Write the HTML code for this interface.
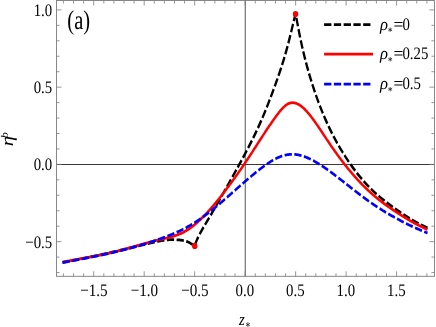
<!DOCTYPE html>
<html><head><meta charset="utf-8"><title>plot</title>
<style>html,body{margin:0;padding:0;background:#fff;overflow:hidden}svg{will-change:transform;-webkit-font-smoothing:antialiased}body{width:436px;height:327px;position:relative;font-family:"Liberation Serif",serif}</style>
</head><body>
<svg width="436" height="327" viewBox="0 0 436 327" style="position:absolute;left:0;top:0" font-family="Liberation Serif, serif" fill="#000" text-rendering="geometricPrecision">
<line x1="245.24" y1="0.5" x2="245.24" y2="276.3" stroke="#000" stroke-width="1" opacity="0.68"/>
<line x1="56.5" y1="164.5" x2="434.45" y2="164.5" stroke="#000" stroke-width="1" opacity="0.78"/>
<g fill="none" stroke-width="2.75" stroke-linejoin="round" transform="scale(0.847,1)">
<path d="M73.91,262.30 L74.50,262.21 L75.09,262.12 L75.68,262.04 L76.27,261.95 L76.86,261.86 L77.45,261.77 L78.04,261.68 L78.63,261.59 L79.22,261.50 L79.81,261.41 L80.40,261.32 L80.99,261.23 L81.58,261.13 L82.17,261.04 L82.76,260.95 L83.35,260.86 L83.94,260.76 L84.53,260.67 L85.12,260.58 L85.71,260.48 L86.30,260.39 L86.89,260.29 L87.49,260.20 L88.08,260.10 L88.67,260.01 L89.26,259.91 L89.85,259.82 L90.44,259.72 L91.03,259.62 L91.62,259.53 L92.21,259.43 L92.80,259.33 L93.39,259.23 L93.98,259.14 L94.57,259.04 L95.16,258.94 L95.75,258.84 L96.34,258.74 L96.93,258.64 L97.52,258.54 L98.11,258.44 L98.70,258.34 L99.29,258.24 L99.88,258.14 L100.47,258.04 L101.06,257.93 L101.65,257.83 L102.24,257.73 L102.83,257.63 L103.42,257.52 L104.01,257.42 L104.60,257.32 L105.19,257.21 L105.79,257.11 L106.38,257.01 L106.97,256.90 L107.56,256.80 L108.15,256.69 L108.74,256.59 L109.33,256.48 L109.92,256.37 L110.51,256.27 L111.10,256.16 L111.69,256.05 L112.28,255.95 L112.87,255.84 L113.46,255.73 L114.05,255.63 L114.64,255.52 L115.23,255.41 L115.82,255.30 L116.41,255.19 L117.00,255.08 L117.59,254.97 L118.18,254.86 L118.77,254.75 L119.36,254.64 L119.95,254.53 L120.54,254.42 L121.13,254.31 L121.72,254.20 L122.31,254.09 L122.90,253.98 L123.49,253.87 L124.09,253.75 L124.68,253.64 L125.27,253.53 L125.86,253.42 L126.45,253.30 L127.04,253.19 L127.63,253.08 L128.22,252.96 L128.81,252.85 L129.40,252.74 L129.99,252.62 L130.58,252.51 L131.17,252.39 L131.76,252.28 L132.35,252.16 L132.94,252.05 L133.53,251.93 L134.12,251.82 L134.71,251.70 L135.30,251.58 L135.89,251.47 L136.48,251.35 L137.07,251.23 L137.66,251.12 L138.25,251.00 L138.84,250.88 L139.43,250.76 L140.02,250.65 L140.61,250.53 L141.20,250.41 L141.79,250.29 L142.38,250.17 L142.98,250.06 L143.57,249.94 L144.16,249.82 L144.75,249.70 L145.34,249.58 L145.93,249.46 L146.52,249.34 L147.11,249.22 L147.70,249.11 L148.29,248.99 L148.88,248.87 L149.47,248.75 L150.06,248.63 L150.65,248.51 L151.24,248.39 L151.83,248.27 L152.42,248.15 L153.01,248.03 L153.60,247.91 L154.19,247.79 L154.78,247.67 L155.37,247.55 L155.96,247.43 L156.55,247.31 L157.14,247.19 L157.73,247.07 L158.32,246.95 L158.91,246.83 L159.50,246.71 L160.09,246.59 L160.68,246.47 L161.28,246.35 L161.87,246.23 L162.46,246.11 L163.05,245.99 L163.64,245.87 L164.23,245.74 L164.82,245.62 L165.41,245.50 L166.00,245.38 L166.59,245.26 L167.18,245.14 L167.77,245.02 L168.36,244.90 L168.95,244.78 L169.54,244.66 L170.13,244.54 L170.72,244.43 L171.31,244.31 L171.90,244.19 L172.49,244.07 L173.08,243.95 L173.67,243.83 L174.26,243.71 L174.85,243.59 L175.44,243.47 L176.03,243.35 L176.62,243.23 L177.21,243.11 L177.80,243.00 L178.39,242.88 L178.98,242.76 L179.57,242.64 L180.17,242.53 L180.76,242.41 L181.35,242.29 L181.94,242.18 L182.53,242.07 L183.12,241.96 L183.71,241.84 L184.30,241.74 L184.89,241.63 L185.48,241.52 L186.07,241.42 L186.66,241.31 L187.25,241.21 L187.84,241.11 L188.43,241.02 L189.02,240.92 L189.61,240.83 L190.20,240.74 L190.79,240.66 L191.38,240.57 L191.97,240.49 L192.56,240.41 L193.15,240.34 L193.74,240.27 L194.33,240.20 L194.92,240.14 L195.51,240.07 L196.10,240.02 L196.69,239.96 L197.28,239.91 L197.87,239.87 L198.47,239.82 L199.06,239.79 L199.65,239.75 L200.24,239.72 L200.83,239.70 L201.42,239.68 L202.01,239.66 L202.60,239.65 L203.19,239.64 L203.78,239.64 L204.37,239.64 L204.96,239.64 L205.55,239.65 L206.14,239.66 L206.73,239.67 L207.32,239.69 L207.91,239.72 L208.50,239.75 L209.09,239.78 L209.68,239.81 L210.27,239.85 L210.86,239.90 L211.45,239.94 L212.04,239.99 L212.63,240.05 L213.22,240.11 L213.81,240.17 L214.40,240.24 L214.99,240.32 L215.58,240.40 L216.17,240.49 L216.77,240.59 L217.36,240.70 L217.95,240.82 L218.54,240.95 L219.13,241.10 L219.72,241.25 L220.31,241.43 L220.90,241.61 L221.49,241.81 L222.08,242.03 L222.67,242.26 L223.26,242.52 L223.85,242.78 L224.44,243.07 L225.03,243.37 L225.62,243.67 L226.21,243.98 L226.80,244.30 L227.39,244.61 L227.98,244.93 L228.57,245.23 L229.16,245.53 L229.75,245.82 L229.93,245.90" stroke="#000" stroke-dasharray="8.6,2.92" stroke-dashoffset="-9.93"/>
<path d="M229.93,245.90 L230.06,245.50 L230.24,245.00 L230.42,244.50 L230.62,244.00 L230.82,243.50 L231.02,243.00 L231.24,242.50 L231.46,242.00 L231.69,241.50 L231.93,241.00 L232.18,240.50 L232.43,240.00 L232.68,239.50 L232.94,239.00 L233.21,238.50 L233.48,238.00 L233.76,237.50 L234.05,237.00 L234.33,236.50 L234.63,236.00 L234.92,235.50 L235.22,235.00 L235.53,234.50 L235.84,234.00 L236.15,233.50 L236.46,233.00 L236.78,232.50 L237.10,232.00 L237.43,231.50 L237.76,231.00 L238.09,230.50 L238.42,230.00 L238.76,229.50 L239.09,229.00 L239.43,228.50 L239.77,228.00 L240.12,227.50 L240.46,227.00 L240.81,226.50 L241.16,226.00 L241.51,225.50 L241.86,225.00 L242.21,224.50 L242.56,224.00 L242.91,223.50 L243.26,223.00 L243.62,222.50 L243.97,222.00 L244.32,221.50 L244.68,221.00 L245.03,220.50 L245.38,220.00 L245.73,219.50 L246.08,219.00 L246.43,218.50 L246.78,218.00 L247.13,217.50 L247.48,217.00 L247.83,216.50 L248.17,216.00 L248.52,215.50 L248.87,215.00 L249.21,214.50 L249.56,214.00 L249.90,213.50 L250.25,213.00 L250.59,212.50 L250.93,212.00 L251.28,211.50 L251.62,211.00 L251.96,210.50 L252.30,210.00 L252.64,209.50 L252.98,209.00 L253.33,208.50 L253.67,208.00 L254.00,207.50 L254.34,207.00 L254.68,206.50 L255.02,206.00 L255.36,205.50 L255.70,205.00 L256.04,204.50 L256.37,204.00 L256.71,203.50 L257.05,203.00 L257.38,202.50 L257.72,202.00 L258.06,201.50 L258.39,201.00 L258.73,200.50 L259.06,200.00 L259.40,199.50 L259.73,199.00 L260.07,198.50 L260.40,198.00 L260.74,197.50 L261.07,197.00 L261.41,196.50 L261.74,196.00 L262.07,195.50 L262.41,195.00 L262.74,194.50 L263.08,194.00 L263.41,193.50 L263.74,193.00 L264.08,192.50 L264.41,192.00 L264.74,191.50 L265.08,191.00 L265.41,190.50 L265.74,190.00 L266.08,189.50 L266.41,189.00 L266.74,188.50 L267.07,188.00 L267.41,187.50 L267.74,187.00 L268.07,186.50 L268.40,186.00 L268.73,185.50 L269.07,185.00 L269.40,184.50 L269.73,184.00 L270.06,183.50 L270.39,183.00 L270.72,182.50 L271.05,182.00 L271.38,181.50 L271.71,181.00 L272.04,180.50 L272.37,180.00 L272.70,179.50 L273.03,179.00 L273.36,178.50 L273.69,178.00 L274.02,177.50 L274.35,177.00 L274.68,176.50 L275.01,176.00 L275.34,175.50 L275.66,175.00 L275.99,174.50 L276.32,174.00 L276.65,173.50 L276.97,173.00 L277.30,172.50 L277.63,172.00 L277.95,171.50 L278.28,171.00 L278.61,170.50 L278.93,170.00 L279.26,169.50 L279.58,169.00 L279.91,168.50 L280.23,168.00 L280.56,167.50 L280.88,167.00 L281.20,166.50 L281.53,166.00 L281.85,165.50 L282.17,165.00 L282.50,164.50 L282.82,164.00 L283.14,163.50 L283.46,163.00 L283.78,162.50 L284.10,162.00 L284.43,161.50 L284.75,161.00 L285.07,160.50 L285.39,160.00 L285.70,159.50 L286.02,159.00 L286.34,158.50 L286.66,158.00 L286.98,157.50 L287.29,157.00 L287.61,156.50 L287.93,156.00 L288.24,155.50 L288.56,155.00 L288.87,154.50 L289.19,154.00 L289.50,153.50 L289.81,153.00 L290.12,152.50 L290.44,152.00 L290.75,151.50 L291.06,151.00 L291.37,150.50 L291.68,150.00 L291.99,149.50 L292.29,149.00 L292.60,148.50 L292.91,148.00 L293.21,147.50 L293.52,147.00 L293.82,146.50 L294.13,146.00 L294.43,145.50 L294.73,145.00 L295.04,144.50 L295.34,144.00 L295.64,143.50 L295.94,143.00 L296.24,142.50 L296.53,142.00 L296.83,141.50 L297.13,141.00 L297.42,140.50 L297.72,140.00 L298.01,139.50 L298.30,139.00 L298.60,138.50 L298.89,138.00 L299.18,137.50 L299.47,137.00 L299.76,136.50 L300.04,136.00 L300.33,135.50 L300.62,135.00 L300.90,134.50 L301.19,134.00 L301.47,133.50 L301.75,133.00 L302.03,132.50 L302.31,132.00 L302.59,131.50 L302.87,131.00 L303.15,130.50 L303.42,130.00 L303.70,129.50 L303.97,129.00 L304.24,128.50 L304.51,128.00 L304.78,127.50 L305.05,127.00 L305.32,126.50 L305.59,126.00 L305.86,125.50 L306.12,125.00 L306.39,124.50 L306.65,124.00 L306.91,123.50 L307.17,123.00 L307.43,122.50 L307.69,122.00 L307.95,121.50 L308.21,121.00 L308.47,120.50 L308.72,120.00 L308.98,119.50 L309.23,119.00 L309.49,118.50 L309.74,118.00 L309.99,117.50 L310.24,117.00 L310.49,116.50 L310.74,116.00 L310.99,115.50 L311.24,115.00 L311.48,114.50 L311.73,114.00 L311.97,113.50 L312.22,113.00 L312.46,112.50 L312.70,112.00 L312.95,111.50 L313.19,111.00 L313.43,110.50 L313.67,110.00 L313.91,109.50 L314.15,109.00 L314.38,108.50 L314.62,108.00 L314.86,107.50 L315.09,107.00 L315.33,106.50 L315.56,106.00 L315.79,105.50 L316.03,105.00 L316.26,104.50 L316.49,104.00 L316.72,103.50 L316.95,103.00 L317.18,102.50 L317.41,102.00 L317.64,101.50 L317.87,101.00 L318.10,100.50 L318.32,100.00 L318.55,99.50 L318.78,99.00 L319.00,98.50 L319.23,98.00 L319.45,97.50 L319.67,97.00 L319.90,96.50 L320.12,96.00 L320.34,95.50 L320.57,95.00 L320.79,94.50 L321.01,94.00 L321.23,93.50 L321.45,93.00 L321.67,92.50 L321.89,92.00 L322.11,91.50 L322.33,91.00 L322.54,90.50 L322.76,90.00 L322.98,89.50 L323.20,89.00 L323.41,88.50 L323.63,88.00 L323.84,87.50 L324.06,87.00 L324.27,86.50 L324.49,86.00 L324.70,85.50 L324.92,85.00 L325.13,84.50 L325.34,84.00 L325.55,83.50 L325.77,83.00 L325.98,82.50 L326.19,82.00 L326.40,81.50 L326.61,81.00 L326.82,80.50 L327.03,80.00 L327.23,79.50 L327.44,79.00 L327.65,78.50 L327.85,78.00 L328.06,77.50 L328.27,77.00 L328.47,76.50 L328.67,76.00 L328.88,75.50 L329.08,75.00 L329.28,74.50 L329.48,74.00 L329.69,73.50 L329.89,73.00 L330.09,72.50 L330.28,72.00 L330.48,71.50 L330.68,71.00 L330.88,70.50 L331.07,70.00 L331.27,69.50 L331.46,69.00 L331.66,68.50 L331.85,68.00 L332.05,67.50 L332.24,67.00 L332.43,66.50 L332.62,66.00 L332.81,65.50 L333.00,65.00 L333.19,64.50 L333.37,64.00 L333.56,63.50 L333.75,63.00 L333.93,62.50 L334.12,62.00 L334.30,61.50 L334.48,61.00 L334.66,60.50 L334.84,60.00 L335.02,59.50 L335.20,59.00 L335.38,58.50 L335.56,58.00 L335.73,57.50 L335.91,57.00 L336.08,56.50 L336.26,56.00 L336.43,55.50 L336.60,55.00 L336.77,54.50 L336.94,54.00 L337.11,53.50 L337.28,53.00 L337.45,52.50 L337.61,52.00 L337.78,51.50 L337.94,51.00 L338.11,50.50 L338.27,50.00 L338.43,49.50 L338.60,49.00 L338.76,48.50 L338.92,48.00 L339.07,47.50 L339.23,47.00 L339.39,46.50 L339.55,46.00 L339.70,45.50 L339.86,45.00 L340.01,44.50 L340.17,44.00 L340.32,43.50 L340.48,43.00 L340.63,42.50 L340.78,42.00 L340.93,41.50 L341.08,41.00 L341.23,40.50 L341.38,40.00 L341.53,39.50 L341.68,39.00 L341.83,38.50 L341.98,38.00 L342.12,37.50 L342.27,37.00 L342.42,36.50 L342.56,36.00 L342.71,35.50 L342.85,35.00 L343.00,34.50 L343.14,34.00 L343.29,33.50 L343.43,33.00 L343.57,32.50 L343.72,32.00 L343.86,31.50 L344.00,31.00 L344.14,30.50 L344.29,30.00 L344.43,29.50 L344.57,29.00 L344.71,28.50 L344.85,28.00 L344.99,27.50 L345.13,27.00 L345.28,26.50 L345.42,26.00 L345.56,25.50 L345.70,25.00 L345.84,24.50 L345.98,24.00 L346.13,23.50 L346.27,23.00 L346.41,22.50 L346.55,22.00 L346.70,21.50 L346.84,21.00 L346.99,20.50 L347.13,20.00 L347.28,19.50 L347.43,19.00 L347.57,18.50 L347.72,18.00 L347.87,17.50 L348.02,17.00 L348.17,16.50 L348.32,16.00 L348.47,15.50 L348.63,15.00 L348.78,14.50 L348.94,14.00" stroke="#000" stroke-dasharray="8.6,2.92" stroke-dashoffset="-1.43"/>
<path d="M348.94,14.00 L349.06,14.50 L349.19,15.00 L349.31,15.50 L349.44,16.00 L349.56,16.50 L349.68,17.00 L349.80,17.50 L349.92,18.00 L350.04,18.50 L350.15,19.00 L350.27,19.50 L350.38,20.00 L350.50,20.50 L350.61,21.00 L350.72,21.50 L350.83,22.00 L350.95,22.50 L351.06,23.00 L351.17,23.50 L351.28,24.00 L351.39,24.50 L351.50,25.00 L351.61,25.50 L351.72,26.00 L351.83,26.50 L351.94,27.00 L352.05,27.50 L352.16,28.00 L352.28,28.50 L352.39,29.00 L352.50,29.50 L352.61,30.00 L352.73,30.50 L352.84,31.00 L352.95,31.50 L353.07,32.00 L353.18,32.50 L353.30,33.00 L353.42,33.50 L353.53,34.00 L353.65,34.50 L353.77,35.00 L353.89,35.50 L354.01,36.00 L354.13,36.50 L354.25,37.00 L354.37,37.50 L354.49,38.00 L354.62,38.50 L354.74,39.00 L354.86,39.50 L354.99,40.00 L355.11,40.50 L355.24,41.00 L355.37,41.50 L355.49,42.00 L355.62,42.50 L355.75,43.00 L355.88,43.50 L356.01,44.00 L356.14,44.50 L356.27,45.00 L356.40,45.50 L356.53,46.00 L356.67,46.50 L356.80,47.00 L356.93,47.50 L357.07,48.00 L357.20,48.50 L357.34,49.00 L357.48,49.50 L357.61,50.00 L357.75,50.50 L357.89,51.00 L358.03,51.50 L358.17,52.00 L358.31,52.50 L358.45,53.00 L358.60,53.50 L358.74,54.00 L358.88,54.50 L359.03,55.00 L359.17,55.50 L359.32,56.00 L359.46,56.50 L359.61,57.00 L359.76,57.50 L359.91,58.00 L360.06,58.50 L360.21,59.00 L360.36,59.50 L360.51,60.00 L360.66,60.50 L360.81,61.00 L360.97,61.50 L361.12,62.00 L361.27,62.50 L361.43,63.00 L361.59,63.50 L361.74,64.00 L361.90,64.50 L362.06,65.00 L362.22,65.50 L362.38,66.00 L362.54,66.50 L362.70,67.00 L362.86,67.50 L363.03,68.00 L363.19,68.50 L363.35,69.00 L363.52,69.50 L363.68,70.00 L363.85,70.50 L364.02,71.00 L364.19,71.50 L364.35,72.00 L364.52,72.50 L364.69,73.00 L364.87,73.50 L365.04,74.00 L365.21,74.50 L365.38,75.00 L365.56,75.50 L365.73,76.00 L365.91,76.50 L366.08,77.00 L366.26,77.50 L366.44,78.00 L366.62,78.50 L366.80,79.00 L366.98,79.50 L367.16,80.00 L367.34,80.50 L367.52,81.00 L367.71,81.50 L367.89,82.00 L368.08,82.50 L368.26,83.00 L368.45,83.50 L368.63,84.00 L368.82,84.50 L369.01,85.00 L369.20,85.50 L369.39,86.00 L369.58,86.50 L369.78,87.00 L369.97,87.50 L370.16,88.00 L370.36,88.50 L370.55,89.00 L370.75,89.50 L370.94,90.00 L371.14,90.50 L371.34,91.00 L371.54,91.50 L371.74,92.00 L371.94,92.50 L372.14,93.00 L372.35,93.50 L372.55,94.00 L372.76,94.50 L372.96,95.00 L373.17,95.50 L373.37,96.00 L373.58,96.50 L373.79,97.00 L374.00,97.50 L374.21,98.00 L374.42,98.50 L374.64,99.00 L374.85,99.50 L375.07,100.00 L375.28,100.50 L375.50,101.00 L375.72,101.50 L375.94,102.00 L376.15,102.50 L376.38,103.00 L376.60,103.50 L376.82,104.00 L377.04,104.50 L377.27,105.00 L377.50,105.50 L377.72,106.00 L377.95,106.50 L378.18,107.00 L378.41,107.50 L378.64,108.00 L378.87,108.50 L379.11,109.00 L379.34,109.50 L379.58,110.00 L379.82,110.50 L380.05,111.00 L380.29,111.50 L380.53,112.00 L380.78,112.50 L381.02,113.00 L381.26,113.50 L381.51,114.00 L381.75,114.50 L382.00,115.00 L382.25,115.50 L382.50,116.00 L382.75,116.50 L383.01,117.00 L383.26,117.50 L383.52,118.00 L383.77,118.50 L384.03,119.00 L384.29,119.50 L384.55,120.00 L384.81,120.50 L385.07,121.00 L385.34,121.50 L385.60,122.00 L385.87,122.50 L386.14,123.00 L386.41,123.50 L386.68,124.00 L386.95,124.50 L387.23,125.00 L387.50,125.50 L387.78,126.00 L388.06,126.50 L388.33,127.00 L388.62,127.50 L388.90,128.00 L389.18,128.50 L389.47,129.00 L389.75,129.50 L390.04,130.00 L390.33,130.50 L390.62,131.00 L390.91,131.50 L391.21,132.00 L391.50,132.50 L391.80,133.00 L392.10,133.50 L392.40,134.00 L392.70,134.50 L393.00,135.00 L393.31,135.50 L393.62,136.00 L393.92,136.50 L394.23,137.00 L394.54,137.50 L394.86,138.00 L395.17,138.50 L395.49,139.00 L395.80,139.50 L396.12,140.00 L396.44,140.50 L396.77,141.00 L397.09,141.50 L397.42,142.00 L397.75,142.50 L398.07,143.00 L398.41,143.50 L398.74,144.00 L399.07,144.50 L399.41,145.00 L399.75,145.50 L400.09,146.00 L400.43,146.50 L400.77,147.00 L401.12,147.50 L401.47,148.00 L401.81,148.50 L402.17,149.00 L402.52,149.50 L402.87,150.00 L403.23,150.50 L403.59,151.00 L403.95,151.50 L404.31,152.00 L404.67,152.50 L405.04,153.00 L405.41,153.50 L405.78,154.00 L406.15,154.50 L406.52,155.00 L406.90,155.50 L407.27,156.00 L407.65,156.50 L408.04,157.00 L408.42,157.50 L408.80,158.00 L409.19,158.50 L409.58,159.00 L409.97,159.50 L410.37,160.00 L410.76,160.50 L411.16,161.00 L411.56,161.50 L411.96,162.00 L412.37,162.50 L412.77,163.00 L413.18,163.50 L413.59,164.00 L414.00,164.50 L414.42,165.00 L414.83,165.50 L415.25,166.00 L415.67,166.50 L416.10,167.00 L416.52,167.50 L416.95,168.00 L417.38,168.50 L417.82,169.00 L418.25,169.50 L418.69,170.00 L419.14,170.50 L419.58,171.00 L420.03,171.50 L420.48,172.00 L420.93,172.50 L421.39,173.00 L421.85,173.50 L422.32,174.00 L422.78,174.50 L423.25,175.00 L423.73,175.50 L424.21,176.00 L424.69,176.50 L425.17,177.00 L425.66,177.50 L426.16,178.00 L426.65,178.50 L427.16,179.00 L427.66,179.50 L428.17,180.00 L428.68,180.50 L429.20,181.00 L429.72,181.50 L430.25,182.00 L430.78,182.50 L431.32,183.00 L431.86,183.50 L432.41,184.00 L432.96,184.50 L433.51,185.00 L434.07,185.50 L434.64,186.00 L435.21,186.50 L435.78,187.00 L436.36,187.50 L436.95,188.00 L437.54,188.50 L438.14,189.00 L438.74,189.50 L439.35,190.00 L439.96,190.50 L440.58,191.00 L441.20,191.50 L441.83,192.00 L442.47,192.50 L443.11,193.00 L443.76,193.50 L444.42,194.00 L445.08,194.50 L445.74,195.00 L446.42,195.50 L447.10,196.00 L447.78,196.50 L448.48,197.00 L449.18,197.50 L449.88,198.00 L450.59,198.50 L451.31,199.00 L452.03,199.50 L452.76,200.00 L453.50,200.50 L454.24,201.00 L454.99,201.50 L455.74,202.00 L456.50,202.50 L457.26,203.00 L458.03,203.50 L458.81,204.00 L459.59,204.50 L460.38,205.00 L461.18,205.50 L461.98,206.00 L462.78,206.50 L463.60,207.00 L464.41,207.50 L465.24,208.00 L466.07,208.50 L466.90,209.00 L467.74,209.50 L468.59,210.00 L469.44,210.50 L470.29,211.00 L471.15,211.50 L472.02,212.00 L472.89,212.50 L473.77,213.00 L474.66,213.50 L475.54,214.00 L476.44,214.50 L477.34,215.00 L478.24,215.50 L479.15,216.00 L480.07,216.50 L481.00,217.00 L481.93,217.50 L482.88,218.00 L483.83,218.50 L484.80,219.00 L485.78,219.50 L486.77,220.00 L487.78,220.50 L488.80,221.00 L489.84,221.50 L490.90,222.00 L491.98,222.50 L493.07,223.00 L494.18,223.50 L495.32,224.00 L496.47,224.50 L497.65,225.00 L498.86,225.50 L500.09,226.00 L501.34,226.50 L502.62,227.00 L503.92,227.50 L504.72,227.80" stroke="#000" stroke-dasharray="8.6,2.92" stroke-dashoffset="-3.98"/>
<path d="M73.91,262.30 L74.50,262.19 L75.09,262.08 L75.68,261.97 L76.27,261.86 L76.86,261.76 L77.45,261.65 L78.04,261.54 L78.63,261.44 L79.22,261.33 L79.81,261.23 L80.40,261.13 L80.99,261.03 L81.58,260.93 L82.17,260.83 L82.76,260.73 L83.35,260.63 L83.94,260.53 L84.53,260.43 L85.12,260.33 L85.71,260.23 L86.30,260.14 L86.89,260.04 L87.49,259.95 L88.08,259.85 L88.67,259.76 L89.26,259.66 L89.85,259.57 L90.44,259.47 L91.03,259.38 L91.62,259.29 L92.21,259.20 L92.80,259.10 L93.39,259.01 L93.98,258.92 L94.57,258.83 L95.16,258.74 L95.75,258.65 L96.34,258.55 L96.93,258.46 L97.52,258.37 L98.11,258.28 L98.70,258.19 L99.29,258.10 L99.88,258.01 L100.47,257.92 L101.06,257.83 L101.65,257.74 L102.24,257.65 L102.83,257.56 L103.42,257.47 L104.01,257.38 L104.60,257.28 L105.19,257.19 L105.79,257.10 L106.38,257.01 L106.97,256.92 L107.56,256.83 L108.15,256.73 L108.74,256.64 L109.33,256.55 L109.92,256.46 L110.51,256.36 L111.10,256.27 L111.69,256.17 L112.28,256.08 L112.87,255.98 L113.46,255.89 L114.05,255.79 L114.64,255.70 L115.23,255.60 L115.82,255.50 L116.41,255.40 L117.00,255.31 L117.59,255.21 L118.18,255.11 L118.77,255.01 L119.36,254.91 L119.95,254.80 L120.54,254.70 L121.13,254.60 L121.72,254.49 L122.31,254.39 L122.90,254.29 L123.49,254.18 L124.09,254.07 L124.68,253.96 L125.27,253.86 L125.86,253.75 L126.45,253.64 L127.04,253.52 L127.63,253.41 L128.22,253.30 L128.81,253.18 L129.40,253.07 L129.99,252.95 L130.58,252.84 L131.17,252.72 L131.76,252.60 L132.35,252.48 L132.94,252.36 L133.53,252.24 L134.12,252.11 L134.71,251.99 L135.30,251.86 L135.89,251.74 L136.48,251.61 L137.07,251.48 L137.66,251.36 L138.25,251.23 L138.84,251.10 L139.43,250.97 L140.02,250.84 L140.61,250.71 L141.20,250.57 L141.79,250.44 L142.38,250.31 L142.98,250.17 L143.57,250.04 L144.16,249.90 L144.75,249.77 L145.34,249.63 L145.93,249.49 L146.52,249.36 L147.11,249.22 L147.70,249.08 L148.29,248.94 L148.88,248.80 L149.47,248.66 L150.06,248.52 L150.65,248.38 L151.24,248.24 L151.83,248.10 L152.42,247.96 L153.01,247.82 L153.60,247.68 L154.19,247.54 L154.78,247.40 L155.37,247.25 L155.96,247.11 L156.55,246.97 L157.14,246.83 L157.73,246.68 L158.32,246.54 L158.91,246.40 L159.50,246.26 L160.09,246.11 L160.68,245.97 L161.28,245.83 L161.87,245.69 L162.46,245.54 L163.05,245.40 L163.64,245.26 L164.23,245.12 L164.82,244.97 L165.41,244.83 L166.00,244.69 L166.59,244.55 L167.18,244.41 L167.77,244.27 L168.36,244.13 L168.95,243.99 L169.54,243.85 L170.13,243.71 L170.72,243.57 L171.31,243.43 L171.90,243.29 L172.49,243.15 L173.08,243.01 L173.67,242.88 L174.26,242.74 L174.85,242.60 L175.44,242.47 L176.03,242.33 L176.62,242.20 L177.21,242.07 L177.80,241.93 L178.39,241.80 L178.98,241.67 L179.57,241.54 L180.17,241.41 L180.76,241.28 L181.35,241.15 L181.94,241.02 L182.53,240.89 L183.12,240.76 L183.71,240.64 L184.30,240.51 L184.89,240.39 L185.48,240.26 L186.07,240.14 L186.66,240.02 L187.25,239.90 L187.84,239.78 L188.43,239.66 L189.02,239.54 L189.61,239.43 L190.20,239.31 L190.79,239.19 L191.38,239.08 L191.97,238.96 L192.56,238.85 L193.15,238.73 L193.74,238.62 L194.33,238.50 L194.92,238.39 L195.51,238.27 L196.10,238.15 L196.69,238.04 L197.28,237.92 L197.87,237.80 L198.47,237.67 L199.06,237.55 L199.65,237.42 L200.24,237.29 L200.83,237.16 L201.42,237.03 L202.01,236.89 L202.60,236.75 L203.19,236.61 L203.78,236.47 L204.37,236.32 L204.96,236.17 L205.55,236.01 L206.14,235.86 L206.73,235.69 L207.32,235.53 L207.91,235.35 L208.50,235.18 L209.09,235.00 L209.68,234.81 L210.27,234.62 L210.86,234.43 L211.45,234.23 L212.04,234.02 L212.63,233.81 L213.22,233.59 L213.81,233.37 L214.40,233.14 L214.99,232.90 L215.58,232.66 L216.17,232.41 L216.77,232.15 L217.36,231.89 L217.95,231.62 L218.54,231.34 L219.13,231.05 L219.72,230.76 L220.31,230.46 L220.90,230.15 L221.49,229.84 L222.08,229.51 L222.67,229.18 L223.26,228.85 L223.85,228.50 L224.44,228.15 L225.03,227.80 L225.62,227.43 L226.21,227.06 L226.80,226.69 L227.39,226.30 L227.98,225.91 L228.57,225.52 L229.16,225.12 L229.75,224.71 L230.34,224.29 L230.93,223.87 L231.52,223.44 L232.11,223.01 L232.70,222.57 L233.29,222.13 L233.88,221.68 L234.47,221.22 L235.06,220.76 L235.66,220.30 L236.25,219.82 L236.84,219.35 L237.43,218.86 L238.02,218.38 L238.61,217.88 L239.20,217.39 L239.79,216.88 L240.38,216.38 L240.97,215.86 L241.56,215.35 L242.15,214.82 L242.74,214.30 L243.33,213.77 L243.92,213.23 L244.51,212.69 L245.10,212.15 L245.69,211.60 L246.28,211.04 L246.87,210.49 L247.46,209.93 L248.05,209.36 L248.64,208.79 L249.23,208.22 L249.82,207.64 L250.41,207.06 L251.00,206.48 L251.59,205.89 L252.18,205.30 L252.77,204.70 L253.36,204.11 L253.96,203.50 L254.55,202.90 L255.14,202.29 L255.73,201.68 L256.32,201.07 L256.91,200.45 L257.50,199.83 L258.09,199.21 L258.68,198.58 L259.27,197.95 L259.86,197.32 L260.45,196.69 L261.04,196.05 L261.63,195.41 L262.22,194.77 L262.81,194.13 L263.40,193.48 L263.99,192.83 L264.58,192.18 L265.17,191.53 L265.76,190.88 L266.35,190.22 L266.94,189.56 L267.53,188.90 L268.12,188.24 L268.71,187.57 L269.30,186.91 L269.89,186.24 L270.48,185.57 L271.07,184.90 L271.66,184.22 L272.26,183.55 L272.85,182.87 L273.44,182.19 L274.03,181.50 L274.62,180.82 L275.21,180.13 L275.80,179.44 L276.39,178.75 L276.98,178.05 L277.57,177.36 L278.16,176.66 L278.75,175.96 L279.34,175.25 L279.93,174.55 L280.52,173.84 L281.11,173.13 L281.70,172.41 L282.29,171.70 L282.88,170.98 L283.47,170.26 L284.06,169.54 L284.65,168.81 L285.24,168.09 L285.83,167.36 L286.42,166.62 L287.01,165.89 L287.60,165.15 L288.19,164.41 L288.78,163.67 L289.37,162.92 L289.96,162.17 L290.55,161.42 L291.15,160.67 L291.74,159.92 L292.33,159.16 L292.92,158.40 L293.51,157.64 L294.10,156.88 L294.69,156.11 L295.28,155.35 L295.87,154.58 L296.46,153.81 L297.05,153.04 L297.64,152.27 L298.23,151.50 L298.82,150.72 L299.41,149.95 L300.00,149.18 L300.59,148.40 L301.18,147.63 L301.77,146.85 L302.36,146.07 L302.95,145.30 L303.54,144.52 L304.13,143.75 L304.72,142.97 L305.31,142.20 L305.90,141.42 L306.49,140.65 L307.08,139.88 L307.67,139.10 L308.26,138.33 L308.85,137.56 L309.45,136.79 L310.04,136.02 L310.63,135.26 L311.22,134.49 L311.81,133.73 L312.40,132.97 L312.99,132.21 L313.58,131.45 L314.17,130.70 L314.76,129.94 L315.35,129.19 L315.94,128.45 L316.53,127.70 L317.12,126.96 L317.71,126.22 L318.30,125.48 L318.89,124.75 L319.48,124.02 L320.07,123.29 L320.66,122.57 L321.25,121.85 L321.84,121.14 L322.43,120.43 L323.02,119.72 L323.61,119.02 L324.20,118.32 L324.79,117.63 L325.38,116.94 L325.97,116.25 L326.56,115.57 L327.15,114.90 L327.74,114.24 L328.34,113.58 L328.93,112.93 L329.52,112.29 L330.11,111.67 L330.70,111.05 L331.29,110.45 L331.88,109.87 L332.47,109.30 L333.06,108.75 L333.65,108.21 L334.24,107.70 L334.83,107.20 L335.42,106.73 L336.01,106.28 L336.60,105.85 L337.19,105.44 L337.78,105.06 L338.37,104.71 L338.96,104.38 L339.55,104.09 L340.14,103.82 L340.73,103.58 L341.32,103.37 L341.91,103.20 L342.50,103.05 L343.09,102.93 L343.68,102.83 L344.27,102.77 L344.86,102.73 L345.45,102.72 L346.04,102.73 L346.64,102.77 L347.23,102.84 L347.82,102.93 L348.41,103.04 L349.00,103.18 L349.59,103.34 L350.18,103.53 L350.77,103.73 L351.36,103.96 L351.95,104.21 L352.54,104.48 L353.13,104.77 L353.72,105.08 L354.31,105.41 L354.90,105.75 L355.49,106.12 L356.08,106.51 L356.67,106.91 L357.26,107.33 L357.85,107.76 L358.44,108.22 L359.03,108.69 L359.62,109.17 L360.21,109.67 L360.80,110.18 L361.39,110.71 L361.98,111.25 L362.57,111.80 L363.16,112.37 L363.75,112.95 L364.34,113.54 L364.94,114.14 L365.53,114.75 L366.12,115.38 L366.71,116.01 L367.30,116.66 L367.89,117.31 L368.48,117.97 L369.07,118.64 L369.66,119.32 L370.25,120.00 L370.84,120.70 L371.43,121.40 L372.02,122.10 L372.61,122.81 L373.20,123.53 L373.79,124.25 L374.38,124.98 L374.97,125.71 L375.56,126.45 L376.15,127.19 L376.74,127.93 L377.33,128.68 L377.92,129.43 L378.51,130.18 L379.10,130.93 L379.69,131.69 L380.28,132.44 L380.87,133.20 L381.46,133.96 L382.05,134.71 L382.64,135.47 L383.23,136.23 L383.83,136.98 L384.42,137.73 L385.01,138.48 L385.60,139.23 L386.19,139.98 L386.78,140.72 L387.37,141.46 L387.96,142.20 L388.55,142.93 L389.14,143.67 L389.73,144.40 L390.32,145.13 L390.91,145.85 L391.50,146.58 L392.09,147.30 L392.68,148.01 L393.27,148.73 L393.86,149.44 L394.45,150.15 L395.04,150.85 L395.63,151.56 L396.22,152.26 L396.81,152.95 L397.40,153.65 L397.99,154.34 L398.58,155.03 L399.17,155.71 L399.76,156.39 L400.35,157.07 L400.94,157.75 L401.53,158.42 L402.13,159.09 L402.72,159.75 L403.31,160.41 L403.90,161.07 L404.49,161.73 L405.08,162.38 L405.67,163.03 L406.26,163.67 L406.85,164.31 L407.44,164.95 L408.03,165.58 L408.62,166.21 L409.21,166.84 L409.80,167.46 L410.39,168.08 L410.98,168.69 L411.57,169.30 L412.16,169.91 L412.75,170.52 L413.34,171.12 L413.93,171.71 L414.52,172.31 L415.11,172.89 L415.70,173.48 L416.29,174.06 L416.88,174.64 L417.47,175.22 L418.06,175.79 L418.65,176.35 L419.24,176.92 L419.83,177.48 L420.43,178.03 L421.02,178.59 L421.61,179.14 L422.20,179.68 L422.79,180.22 L423.38,180.76 L423.97,181.30 L424.56,181.83 L425.15,182.36 L425.74,182.88 L426.33,183.40 L426.92,183.92 L427.51,184.43 L428.10,184.94 L428.69,185.45 L429.28,185.95 L429.87,186.45 L430.46,186.94 L431.05,187.43 L431.64,187.92 L432.23,188.41 L432.82,188.89 L433.41,189.37 L434.00,189.84 L434.59,190.31 L435.18,190.78 L435.77,191.24 L436.36,191.70 L436.95,192.15 L437.54,192.61 L438.13,193.05 L438.72,193.50 L439.32,193.94 L439.91,194.38 L440.50,194.82 L441.09,195.25 L441.68,195.68 L442.27,196.10 L442.86,196.52 L443.45,196.94 L444.04,197.36 L444.63,197.77 L445.22,198.18 L445.81,198.59 L446.40,198.99 L446.99,199.39 L447.58,199.79 L448.17,200.19 L448.76,200.58 L449.35,200.97 L449.94,201.36 L450.53,201.74 L451.12,202.12 L451.71,202.50 L452.30,202.88 L452.89,203.26 L453.48,203.63 L454.07,204.00 L454.66,204.37 L455.25,204.73 L455.84,205.10 L456.43,205.46 L457.02,205.82 L457.62,206.17 L458.21,206.53 L458.80,206.88 L459.39,207.23 L459.98,207.58 L460.57,207.93 L461.16,208.27 L461.75,208.62 L462.34,208.96 L462.93,209.30 L463.52,209.64 L464.11,209.97 L464.70,210.31 L465.29,210.64 L465.88,210.97 L466.47,211.31 L467.06,211.63 L467.65,211.96 L468.24,212.29 L468.83,212.62 L469.42,212.94 L470.01,213.26 L470.60,213.58 L471.19,213.91 L471.78,214.23 L472.37,214.54 L472.96,214.86 L473.55,215.18 L474.14,215.49 L474.73,215.81 L475.32,216.12 L475.91,216.44 L476.51,216.75 L477.10,217.06 L477.69,217.37 L478.28,217.67 L478.87,217.98 L479.46,218.28 L480.05,218.59 L480.64,218.89 L481.23,219.19 L481.82,219.49 L482.41,219.78 L483.00,220.08 L483.59,220.37 L484.18,220.67 L484.77,220.96 L485.36,221.25 L485.95,221.53 L486.54,221.82 L487.13,222.10 L487.72,222.38 L488.31,222.66 L488.90,222.94 L489.49,223.21 L490.08,223.49 L490.67,223.76 L491.26,224.03 L491.85,224.29 L492.44,224.56 L493.03,224.82 L493.62,225.08 L494.21,225.34 L494.81,225.60 L495.40,225.85 L495.99,226.10 L496.58,226.35 L497.17,226.59 L497.76,226.84 L498.35,227.08 L498.94,227.31 L499.53,227.55 L500.12,227.78 L500.71,228.01 L501.30,228.24 L501.89,228.46 L502.48,228.69 L503.07,228.90 L503.66,229.12 L504.25,229.33 L504.72,229.50" stroke="#f00"/>
<path d="M73.91,262.65 L74.50,262.55 L75.09,262.45 L75.68,262.36 L76.27,262.26 L76.86,262.16 L77.45,262.07 L78.04,261.97 L78.63,261.87 L79.22,261.78 L79.81,261.68 L80.40,261.58 L80.99,261.49 L81.58,261.39 L82.17,261.29 L82.76,261.20 L83.35,261.10 L83.94,261.01 L84.53,260.91 L85.12,260.82 L85.71,260.72 L86.30,260.62 L86.89,260.53 L87.49,260.43 L88.08,260.34 L88.67,260.24 L89.26,260.15 L89.85,260.05 L90.44,259.96 L91.03,259.86 L91.62,259.76 L92.21,259.67 L92.80,259.57 L93.39,259.48 L93.98,259.38 L94.57,259.29 L95.16,259.19 L95.75,259.09 L96.34,259.00 L96.93,258.90 L97.52,258.81 L98.11,258.71 L98.70,258.61 L99.29,258.52 L99.88,258.42 L100.47,258.32 L101.06,258.23 L101.65,258.13 L102.24,258.03 L102.83,257.93 L103.42,257.84 L104.01,257.74 L104.60,257.64 L105.19,257.54 L105.79,257.44 L106.38,257.35 L106.97,257.25 L107.56,257.15 L108.15,257.05 L108.74,256.95 L109.33,256.85 L109.92,256.75 L110.51,256.65 L111.10,256.55 L111.69,256.45 L112.28,256.35 L112.87,256.25 L113.46,256.14 L114.05,256.04 L114.64,255.94 L115.23,255.84 L115.82,255.73 L116.41,255.63 L117.00,255.53 L117.59,255.42 L118.18,255.32 L118.77,255.22 L119.36,255.11 L119.95,255.00 L120.54,254.90 L121.13,254.79 L121.72,254.69 L122.31,254.58 L122.90,254.47 L123.49,254.36 L124.09,254.26 L124.68,254.15 L125.27,254.04 L125.86,253.93 L126.45,253.82 L127.04,253.71 L127.63,253.60 L128.22,253.48 L128.81,253.37 L129.40,253.26 L129.99,253.15 L130.58,253.03 L131.17,252.92 L131.76,252.81 L132.35,252.69 L132.94,252.57 L133.53,252.46 L134.12,252.34 L134.71,252.22 L135.30,252.11 L135.89,251.99 L136.48,251.87 L137.07,251.75 L137.66,251.63 L138.25,251.51 L138.84,251.39 L139.43,251.27 L140.02,251.15 L140.61,251.02 L141.20,250.90 L141.79,250.78 L142.38,250.65 L142.98,250.53 L143.57,250.40 L144.16,250.28 L144.75,250.15 L145.34,250.02 L145.93,249.89 L146.52,249.77 L147.11,249.64 L147.70,249.51 L148.29,249.38 L148.88,249.25 L149.47,249.12 L150.06,248.98 L150.65,248.85 L151.24,248.72 L151.83,248.59 L152.42,248.45 L153.01,248.32 L153.60,248.18 L154.19,248.04 L154.78,247.91 L155.37,247.77 L155.96,247.63 L156.55,247.49 L157.14,247.35 L157.73,247.21 L158.32,247.07 L158.91,246.93 L159.50,246.79 L160.09,246.65 L160.68,246.51 L161.28,246.36 L161.87,246.22 L162.46,246.07 L163.05,245.93 L163.64,245.78 L164.23,245.63 L164.82,245.49 L165.41,245.34 L166.00,245.19 L166.59,245.04 L167.18,244.89 L167.77,244.74 L168.36,244.59 L168.95,244.43 L169.54,244.28 L170.13,244.13 L170.72,243.97 L171.31,243.82 L171.90,243.66 L172.49,243.51 L173.08,243.35 L173.67,243.19 L174.26,243.03 L174.85,242.87 L175.44,242.71 L176.03,242.55 L176.62,242.39 L177.21,242.23 L177.80,242.07 L178.39,241.90 L178.98,241.74 L179.57,241.57 L180.17,241.41 L180.76,241.24 L181.35,241.07 L181.94,240.91 L182.53,240.74 L183.12,240.57 L183.71,240.40 L184.30,240.23 L184.89,240.06 L185.48,239.88 L186.07,239.71 L186.66,239.54 L187.25,239.36 L187.84,239.19 L188.43,239.01 L189.02,238.83 L189.61,238.65 L190.20,238.48 L190.79,238.30 L191.38,238.12 L191.97,237.94 L192.56,237.75 L193.15,237.57 L193.74,237.39 L194.33,237.20 L194.92,237.01 L195.51,236.83 L196.10,236.64 L196.69,236.45 L197.28,236.26 L197.87,236.06 L198.47,235.87 L199.06,235.67 L199.65,235.48 L200.24,235.28 L200.83,235.08 L201.42,234.88 L202.01,234.68 L202.60,234.47 L203.19,234.26 L203.78,234.06 L204.37,233.85 L204.96,233.64 L205.55,233.42 L206.14,233.21 L206.73,232.99 L207.32,232.77 L207.91,232.55 L208.50,232.33 L209.09,232.10 L209.68,231.88 L210.27,231.65 L210.86,231.42 L211.45,231.18 L212.04,230.95 L212.63,230.71 L213.22,230.47 L213.81,230.23 L214.40,229.98 L214.99,229.73 L215.58,229.49 L216.17,229.23 L216.77,228.98 L217.36,228.72 L217.95,228.46 L218.54,228.20 L219.13,227.93 L219.72,227.66 L220.31,227.39 L220.90,227.12 L221.49,226.84 L222.08,226.56 L222.67,226.28 L223.26,226.00 L223.85,225.71 L224.44,225.42 L225.03,225.12 L225.62,224.83 L226.21,224.53 L226.80,224.22 L227.39,223.92 L227.98,223.61 L228.57,223.30 L229.16,222.98 L229.75,222.66 L230.34,222.34 L230.93,222.02 L231.52,221.69 L232.11,221.36 L232.70,221.03 L233.29,220.70 L233.88,220.36 L234.47,220.02 L235.06,219.68 L235.66,219.34 L236.25,218.99 L236.84,218.64 L237.43,218.29 L238.02,217.93 L238.61,217.58 L239.20,217.22 L239.79,216.86 L240.38,216.49 L240.97,216.13 L241.56,215.76 L242.15,215.39 L242.74,215.01 L243.33,214.64 L243.92,214.26 L244.51,213.88 L245.10,213.50 L245.69,213.11 L246.28,212.73 L246.87,212.34 L247.46,211.95 L248.05,211.56 L248.64,211.17 L249.23,210.77 L249.82,210.37 L250.41,209.97 L251.00,209.57 L251.59,209.17 L252.18,208.76 L252.77,208.36 L253.36,207.95 L253.96,207.54 L254.55,207.13 L255.14,206.71 L255.73,206.30 L256.32,205.88 L256.91,205.46 L257.50,205.04 L258.09,204.62 L258.68,204.20 L259.27,203.78 L259.86,203.35 L260.45,202.92 L261.04,202.50 L261.63,202.07 L262.22,201.64 L262.81,201.21 L263.40,200.78 L263.99,200.34 L264.58,199.91 L265.17,199.48 L265.76,199.04 L266.35,198.60 L266.94,198.17 L267.53,197.73 L268.12,197.29 L268.71,196.85 L269.30,196.41 L269.89,195.97 L270.48,195.53 L271.07,195.09 L271.66,194.65 L272.26,194.21 L272.85,193.77 L273.44,193.32 L274.03,192.88 L274.62,192.44 L275.21,192.00 L275.80,191.55 L276.39,191.11 L276.98,190.67 L277.57,190.23 L278.16,189.78 L278.75,189.34 L279.34,188.90 L279.93,188.46 L280.52,188.01 L281.11,187.57 L281.70,187.13 L282.29,186.69 L282.88,186.25 L283.47,185.81 L284.06,185.37 L284.65,184.93 L285.24,184.49 L285.83,184.06 L286.42,183.62 L287.01,183.18 L287.60,182.75 L288.19,182.31 L288.78,181.88 L289.37,181.44 L289.96,181.01 L290.55,180.58 L291.15,180.15 L291.74,179.72 L292.33,179.29 L292.92,178.87 L293.51,178.44 L294.10,178.02 L294.69,177.59 L295.28,177.17 L295.87,176.75 L296.46,176.33 L297.05,175.92 L297.64,175.50 L298.23,175.08 L298.82,174.67 L299.41,174.26 L300.00,173.85 L300.59,173.44 L301.18,173.03 L301.77,172.63 L302.36,172.23 L302.95,171.82 L303.54,171.42 L304.13,171.03 L304.72,170.63 L305.31,170.24 L305.90,169.84 L306.49,169.45 L307.08,169.07 L307.67,168.68 L308.26,168.30 L308.85,167.92 L309.45,167.54 L310.04,167.16 L310.63,166.79 L311.22,166.42 L311.81,166.05 L312.40,165.69 L312.99,165.33 L313.58,164.97 L314.17,164.62 L314.76,164.27 L315.35,163.92 L315.94,163.58 L316.53,163.24 L317.12,162.91 L317.71,162.58 L318.30,162.26 L318.89,161.94 L319.48,161.62 L320.07,161.31 L320.66,161.01 L321.25,160.71 L321.84,160.41 L322.43,160.13 L323.02,159.84 L323.61,159.57 L324.20,159.29 L324.79,159.03 L325.38,158.77 L325.97,158.52 L326.56,158.27 L327.15,158.03 L327.74,157.80 L328.34,157.57 L328.93,157.35 L329.52,157.14 L330.11,156.93 L330.70,156.73 L331.29,156.54 L331.88,156.36 L332.47,156.18 L333.06,156.01 L333.65,155.85 L334.24,155.69 L334.83,155.55 L335.42,155.41 L336.01,155.28 L336.60,155.15 L337.19,155.04 L337.78,154.93 L338.37,154.83 L338.96,154.74 L339.55,154.65 L340.14,154.58 L340.73,154.51 L341.32,154.45 L341.91,154.40 L342.50,154.36 L343.09,154.32 L343.68,154.30 L344.27,154.28 L344.86,154.27 L345.45,154.27 L346.04,154.28 L346.64,154.30 L347.23,154.33 L347.82,154.36 L348.41,154.40 L349.00,154.46 L349.59,154.52 L350.18,154.58 L350.77,154.66 L351.36,154.74 L351.95,154.84 L352.54,154.94 L353.13,155.04 L353.72,155.16 L354.31,155.28 L354.90,155.41 L355.49,155.54 L356.08,155.68 L356.67,155.83 L357.26,155.99 L357.85,156.15 L358.44,156.32 L359.03,156.49 L359.62,156.67 L360.21,156.86 L360.80,157.05 L361.39,157.24 L361.98,157.45 L362.57,157.66 L363.16,157.87 L363.75,158.09 L364.34,158.31 L364.94,158.54 L365.53,158.78 L366.12,159.01 L366.71,159.26 L367.30,159.51 L367.89,159.76 L368.48,160.02 L369.07,160.28 L369.66,160.54 L370.25,160.81 L370.84,161.09 L371.43,161.37 L372.02,161.65 L372.61,161.93 L373.20,162.22 L373.79,162.52 L374.38,162.81 L374.97,163.11 L375.56,163.42 L376.15,163.73 L376.74,164.04 L377.33,164.35 L377.92,164.67 L378.51,164.99 L379.10,165.31 L379.69,165.64 L380.28,165.97 L380.87,166.30 L381.46,166.64 L382.05,166.97 L382.64,167.31 L383.23,167.65 L383.83,168.00 L384.42,168.35 L385.01,168.69 L385.60,169.04 L386.19,169.40 L386.78,169.75 L387.37,170.11 L387.96,170.47 L388.55,170.83 L389.14,171.19 L389.73,171.56 L390.32,171.92 L390.91,172.29 L391.50,172.66 L392.09,173.03 L392.68,173.40 L393.27,173.78 L393.86,174.15 L394.45,174.53 L395.04,174.91 L395.63,175.29 L396.22,175.67 L396.81,176.05 L397.40,176.43 L397.99,176.82 L398.58,177.20 L399.17,177.59 L399.76,177.97 L400.35,178.36 L400.94,178.75 L401.53,179.14 L402.13,179.53 L402.72,179.92 L403.31,180.31 L403.90,180.70 L404.49,181.09 L405.08,181.49 L405.67,181.88 L406.26,182.27 L406.85,182.66 L407.44,183.06 L408.03,183.45 L408.62,183.85 L409.21,184.24 L409.80,184.63 L410.39,185.03 L410.98,185.42 L411.57,185.82 L412.16,186.21 L412.75,186.60 L413.34,187.00 L413.93,187.39 L414.52,187.78 L415.11,188.17 L415.70,188.57 L416.29,188.96 L416.88,189.35 L417.47,189.74 L418.06,190.13 L418.65,190.52 L419.24,190.91 L419.83,191.30 L420.43,191.69 L421.02,192.07 L421.61,192.46 L422.20,192.85 L422.79,193.23 L423.38,193.62 L423.97,194.00 L424.56,194.38 L425.15,194.76 L425.74,195.14 L426.33,195.52 L426.92,195.90 L427.51,196.28 L428.10,196.65 L428.69,197.03 L429.28,197.40 L429.87,197.77 L430.46,198.14 L431.05,198.51 L431.64,198.88 L432.23,199.24 L432.82,199.61 L433.41,199.97 L434.00,200.33 L434.59,200.69 L435.18,201.05 L435.77,201.41 L436.36,201.76 L436.95,202.11 L437.54,202.47 L438.13,202.81 L438.72,203.16 L439.32,203.51 L439.91,203.85 L440.50,204.19 L441.09,204.53 L441.68,204.87 L442.27,205.21 L442.86,205.55 L443.45,205.88 L444.04,206.21 L444.63,206.54 L445.22,206.87 L445.81,207.20 L446.40,207.52 L446.99,207.84 L447.58,208.17 L448.17,208.49 L448.76,208.81 L449.35,209.12 L449.94,209.44 L450.53,209.75 L451.12,210.06 L451.71,210.38 L452.30,210.68 L452.89,210.99 L453.48,211.30 L454.07,211.60 L454.66,211.91 L455.25,212.21 L455.84,212.51 L456.43,212.81 L457.02,213.11 L457.62,213.40 L458.21,213.70 L458.80,213.99 L459.39,214.28 L459.98,214.57 L460.57,214.86 L461.16,215.15 L461.75,215.44 L462.34,215.72 L462.93,216.00 L463.52,216.29 L464.11,216.57 L464.70,216.85 L465.29,217.13 L465.88,217.40 L466.47,217.68 L467.06,217.95 L467.65,218.23 L468.24,218.50 L468.83,218.77 L469.42,219.04 L470.01,219.31 L470.60,219.58 L471.19,219.84 L471.78,220.11 L472.37,220.37 L472.96,220.64 L473.55,220.90 L474.14,221.16 L474.73,221.42 L475.32,221.68 L475.91,221.93 L476.51,222.19 L477.10,222.44 L477.69,222.70 L478.28,222.95 L478.87,223.20 L479.46,223.45 L480.05,223.70 L480.64,223.95 L481.23,224.20 L481.82,224.44 L482.41,224.69 L483.00,224.93 L483.59,225.17 L484.18,225.41 L484.77,225.65 L485.36,225.89 L485.95,226.13 L486.54,226.36 L487.13,226.60 L487.72,226.83 L488.31,227.06 L488.90,227.29 L489.49,227.52 L490.08,227.75 L490.67,227.98 L491.26,228.20 L491.85,228.43 L492.44,228.65 L493.03,228.87 L493.62,229.09 L494.21,229.31 L494.81,229.53 L495.40,229.75 L495.99,229.96 L496.58,230.18 L497.17,230.39 L497.76,230.60 L498.35,230.81 L498.94,231.02 L499.53,231.23 L500.12,231.44 L500.71,231.64 L501.30,231.84 L501.89,232.05 L502.48,232.25 L503.07,232.45 L503.66,232.65 L504.25,232.84 L504.72,233.00" stroke="#00f" stroke-dasharray="8.6,2.92"/>
</g>
<ellipse cx="295.55" cy="14.05" rx="2.7" ry="3.15" fill="#f00"/>
<ellipse cx="194.75" cy="245.9" rx="2.7" ry="3.15" fill="#f00"/>
<rect x="56.5" y="0.5" width="377.95" height="275.8" fill="none" stroke="#7c7c7c" stroke-width="0.9"/>
<path d="M63.42,276.3 v-3.0 M63.42,0.5 v3.0 M73.52,276.3 v-3.0 M73.52,0.5 v3.0 M83.61,276.3 v-3.0 M83.61,0.5 v3.0 M93.71,276.3 v-5.0 M93.71,0.5 v5.0 M103.81,276.3 v-3.0 M103.81,0.5 v3.0 M113.90,276.3 v-3.0 M113.90,0.5 v3.0 M124.00,276.3 v-3.0 M124.00,0.5 v3.0 M134.09,276.3 v-3.0 M134.09,0.5 v3.0 M144.19,276.3 v-5.0 M144.19,0.5 v5.0 M154.29,276.3 v-3.0 M154.29,0.5 v3.0 M164.38,276.3 v-3.0 M164.38,0.5 v3.0 M174.48,276.3 v-3.0 M174.48,0.5 v3.0 M184.57,276.3 v-3.0 M184.57,0.5 v3.0 M194.67,276.3 v-5.0 M194.67,0.5 v5.0 M204.77,276.3 v-3.0 M204.77,0.5 v3.0 M214.86,276.3 v-3.0 M214.86,0.5 v3.0 M224.96,276.3 v-3.0 M224.96,0.5 v3.0 M235.05,276.3 v-3.0 M235.05,0.5 v3.0 M245.15,276.3 v-5.0 M245.15,0.5 v5.0 M255.25,276.3 v-3.0 M255.25,0.5 v3.0 M265.34,276.3 v-3.0 M265.34,0.5 v3.0 M275.44,276.3 v-3.0 M275.44,0.5 v3.0 M285.53,276.3 v-3.0 M285.53,0.5 v3.0 M295.63,276.3 v-5.0 M295.63,0.5 v5.0 M305.73,276.3 v-3.0 M305.73,0.5 v3.0 M315.82,276.3 v-3.0 M315.82,0.5 v3.0 M325.92,276.3 v-3.0 M325.92,0.5 v3.0 M336.01,276.3 v-3.0 M336.01,0.5 v3.0 M346.11,276.3 v-5.0 M346.11,0.5 v5.0 M356.21,276.3 v-3.0 M356.21,0.5 v3.0 M366.30,276.3 v-3.0 M366.30,0.5 v3.0 M376.40,276.3 v-3.0 M376.40,0.5 v3.0 M386.49,276.3 v-3.0 M386.49,0.5 v3.0 M396.59,276.3 v-5.0 M396.59,0.5 v5.0 M406.69,276.3 v-3.0 M406.69,0.5 v3.0 M416.78,276.3 v-3.0 M416.78,0.5 v3.0 M426.88,276.3 v-3.0 M426.88,0.5 v3.0 M56.5,272.55 h3.0 M434.45,272.55 h-3.0 M56.5,257.10 h3.0 M434.45,257.10 h-3.0 M56.5,241.65 h5.0 M434.45,241.65 h-5.0 M56.5,226.20 h3.0 M434.45,226.20 h-3.0 M56.5,210.75 h3.0 M434.45,210.75 h-3.0 M56.5,195.30 h3.0 M434.45,195.30 h-3.0 M56.5,179.85 h3.0 M434.45,179.85 h-3.0 M56.5,164.40 h5.0 M434.45,164.40 h-5.0 M56.5,148.95 h3.0 M434.45,148.95 h-3.0 M56.5,133.50 h3.0 M434.45,133.50 h-3.0 M56.5,118.05 h3.0 M434.45,118.05 h-3.0 M56.5,102.60 h3.0 M434.45,102.60 h-3.0 M56.5,87.15 h5.0 M434.45,87.15 h-5.0 M56.5,71.70 h3.0 M434.45,71.70 h-3.0 M56.5,56.25 h3.0 M434.45,56.25 h-3.0 M56.5,40.80 h3.0 M434.45,40.80 h-3.0 M56.5,25.35 h3.0 M434.45,25.35 h-3.0 M56.5,9.90 h5.0 M434.45,9.90 h-5.0" stroke="#7c7c7c" stroke-width="0.8" fill="none"/>
<text transform="translate(93.96000000000001,296.0) scale(0.865,1)" font-size="17.5" text-anchor="middle" >−1.5</text>
<text transform="translate(144.44,296.0) scale(0.865,1)" font-size="17.5" text-anchor="middle" >−1.0</text>
<text transform="translate(194.92000000000002,296.0) scale(0.865,1)" font-size="17.5" text-anchor="middle" >−0.5</text>
<text transform="translate(244.85,296.0) scale(0.847,1)" font-size="17.5" text-anchor="middle" >0.0</text>
<text transform="translate(295.33,296.0) scale(0.847,1)" font-size="17.5" text-anchor="middle" >0.5</text>
<text transform="translate(345.81,296.0) scale(0.847,1)" font-size="17.5" text-anchor="middle" >1.0</text>
<text transform="translate(396.29,296.0) scale(0.847,1)" font-size="17.5" text-anchor="middle" >1.5</text>
<text transform="translate(52.2,15.800000000000006) scale(0.847,1)" font-size="17.5" text-anchor="end" >1.0</text>
<text transform="translate(52.2,93.05000000000001) scale(0.847,1)" font-size="17.5" text-anchor="end" >0.5</text>
<text transform="translate(52.2,170.3) scale(0.847,1)" font-size="17.5" text-anchor="end" >0.0</text>
<text transform="translate(52.2,247.55) scale(0.847,1)" font-size="17.5" text-anchor="end" >−0.5</text>
<text transform="translate(239.0,325) scale(0.847,1)" font-size="17.5" text-anchor="start" ><tspan font-style="italic">z</tspan></text>
<path d="M247.90,322.30 L247.90,326.90 M245.91,323.45 L249.89,325.75 M249.89,323.45 L245.91,325.75" stroke="#222" stroke-width="0.75" fill="none"/>
<text transform="translate(12.8,146.3) rotate(-90) scale(1.2,1)" font-size="17.5" text-anchor="start"><tspan font-style="italic">η</tspan><tspan font-size="10.2" dy="-4.4" dx="-1.9" font-style="italic">b</tspan></text>
<text transform="translate(67.3,29.3) scale(0.76,1)" font-size="27" text-anchor="start" >(a)</text>
<line x1="324.1" y1="24.65" x2="370.6" y2="24.65" stroke="#000" stroke-width="2.7" stroke-dasharray="7.3,2.47"/>
<text transform="translate(379.9,29.75) scale(0.95,1)" font-size="17.5" text-anchor="start" ><tspan font-style="italic">ρ</tspan></text>
<path d="M390.20,27.55 L390.20,31.95 M388.29,28.65 L392.11,30.85 M392.11,28.65 L388.29,30.85" stroke="#222" stroke-width="0.75" fill="none"/>
<text transform="translate(393.55,29.75) scale(1.0,1)" font-size="17.5" text-anchor="start" >=</text>
<text transform="translate(402.45,29.75) scale(0.847,1)" font-size="17.5" text-anchor="start" >0</text>
<line x1="324.1" y1="54.2" x2="373" y2="54.2" stroke="#f00" stroke-width="2.7"/>
<text transform="translate(379.9,59.300000000000004) scale(0.95,1)" font-size="17.5" text-anchor="start" ><tspan font-style="italic">ρ</tspan></text>
<path d="M390.20,57.10 L390.20,61.50 M388.29,58.20 L392.11,60.40 M392.11,58.20 L388.29,60.40" stroke="#222" stroke-width="0.75" fill="none"/>
<text transform="translate(393.55,59.300000000000004) scale(1.0,1)" font-size="17.5" text-anchor="start" >=</text>
<text transform="translate(402.45,59.300000000000004) scale(0.847,1)" font-size="17.5" text-anchor="start" >0.25</text>
<line x1="324.1" y1="84.1" x2="370.6" y2="84.1" stroke="#00f" stroke-width="2.7" stroke-dasharray="7.3,2.47"/>
<text transform="translate(379.9,89.19999999999999) scale(0.95,1)" font-size="17.5" text-anchor="start" ><tspan font-style="italic">ρ</tspan></text>
<path d="M390.20,87.00 L390.20,91.40 M388.29,88.10 L392.11,90.30 M392.11,88.10 L388.29,90.30" stroke="#222" stroke-width="0.75" fill="none"/>
<text transform="translate(393.55,89.19999999999999) scale(1.0,1)" font-size="17.5" text-anchor="start" >=</text>
<text transform="translate(402.45,89.19999999999999) scale(0.847,1)" font-size="17.5" text-anchor="start" >0.5</text>
</svg>
</body></html>
